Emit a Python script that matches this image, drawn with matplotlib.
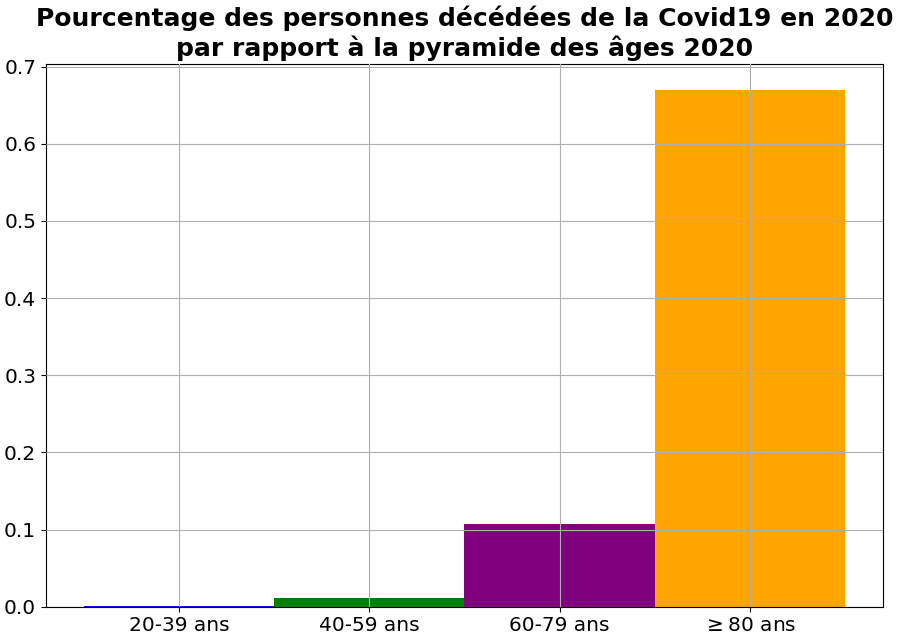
import numpy as np
import matplotlib.pyplot as plt

# données
tranches = ['20-39 ans', '40-59 ans', '60-79 ans', r'$\geq$80 ans']
pourcentages = [0.0012, 0.0116, 0.107, 0.670]
couleurs = ['blue', 'green', 'purple', 'orange']

fig = plt.figure(figsize=(9, 6.4), dpi=100)
ax = fig.add_subplot(111)
fig.subplots_adjust(left=0.051, right=0.981, top=0.9, bottom=0.052)

x = np.arange(len(tranches))
ax.bar(x, pourcentages, width=1, color=couleurs)
ax.set_xticks(x)
ax.set_xticklabels(tranches)
ax.tick_params(labelsize=14.5)
ax.grid(True)
ax.set_axisbelow(False)
ax.set_title('Pourcentage des personnes décédées de la Covid19 en 2020\npar rapport à la pyramide des âges 2020',
             fontsize=18, fontweight='bold')

plt.savefig('out.png')
